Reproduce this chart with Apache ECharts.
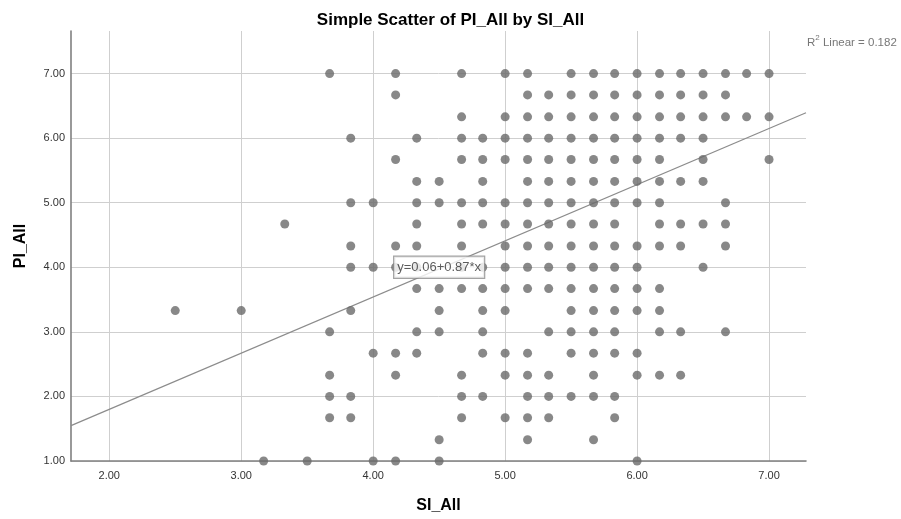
<!DOCTYPE html>
<html>
<head>
<meta charset="utf-8">
<script src="https://cdn.jsdelivr.net/npm/echarts@6/dist/echarts.min.js"></script>
<style>
  html, body { margin: 0; padding: 0; background: #fff; }
  #main { width: 901px; height: 519px; }
</style>
</head>
<body>
<div id="main"></div>
<script>
// PI_All levels (one row of points each) and the SI_All values seen on that row
var piLevels = [7.00, 6.67, 6.33, 6.00, 5.67, 5.33, 5.00, 4.67, 4.33, 4.00, 3.67, 3.33, 3.00, 2.67, 2.33, 2.00, 1.67, 1.33, 1.00];
var siByRow = [
  [3.67, 4.17, 4.67, 5.00, 5.17, 5.50, 5.67, 5.83, 6.00, 6.17, 6.33, 6.50, 6.67, 6.83, 7.00],
  [4.17, 5.17, 5.33, 5.50, 5.67, 5.83, 6.00, 6.17, 6.33, 6.50, 6.67],
  [4.67, 5.00, 5.17, 5.33, 5.50, 5.67, 5.83, 6.00, 6.17, 6.33, 6.50, 6.67, 6.83, 7.00],
  [3.83, 4.33, 4.67, 4.83, 5.00, 5.17, 5.33, 5.50, 5.67, 5.83, 6.00, 6.17, 6.33, 6.50],
  [4.17, 4.67, 4.83, 5.00, 5.17, 5.33, 5.50, 5.67, 5.83, 6.00, 6.17, 6.50, 7.00],
  [4.33, 4.50, 4.83, 5.17, 5.33, 5.50, 5.67, 5.83, 6.00, 6.17, 6.33, 6.50],
  [3.83, 4.00, 4.33, 4.50, 4.67, 4.83, 5.00, 5.17, 5.33, 5.50, 5.67, 5.83, 6.00, 6.17, 6.67],
  [3.33, 4.33, 4.67, 4.83, 5.00, 5.17, 5.33, 5.50, 5.67, 5.83, 6.17, 6.33, 6.50, 6.67],
  [3.83, 4.17, 4.33, 4.67, 5.00, 5.17, 5.33, 5.50, 5.67, 5.83, 6.00, 6.17, 6.33, 6.67],
  [3.83, 4.00, 4.17, 4.33, 4.67, 4.83, 5.00, 5.17, 5.33, 5.50, 5.67, 5.83, 6.00, 6.50],
  [4.33, 4.50, 4.67, 4.83, 5.00, 5.17, 5.33, 5.50, 5.67, 5.83, 6.00, 6.17],
  [2.50, 3.00, 3.83, 4.50, 4.83, 5.00, 5.50, 5.67, 5.83, 6.00, 6.17],
  [3.67, 4.33, 4.50, 4.83, 5.33, 5.50, 5.67, 5.83, 6.17, 6.33, 6.67],
  [4.00, 4.17, 4.33, 4.83, 5.00, 5.17, 5.50, 5.67, 5.83, 6.00],
  [3.67, 4.17, 4.67, 5.00, 5.17, 5.33, 5.67, 6.00, 6.17, 6.33],
  [3.67, 3.83, 4.67, 4.83, 5.17, 5.33, 5.50, 5.67, 5.83],
  [3.67, 3.83, 4.67, 5.00, 5.17, 5.33, 5.83],
  [4.50, 5.17, 5.67],
  [3.17, 3.50, 4.00, 4.17, 4.50, 6.00]
];
var xTicks = [2, 3, 4, 5, 6, 7];
var yTicks = [1, 2, 3, 4, 5, 6, 7];
var fitCoef = [0.06, 0.87]; // intercept, slope
var rSquared = 0.182;

var xMin = 1.71, xMax = 7.28;
var yMin = 1.0, yMax = 7.66;

var points = [];
for (var r = 0; r < piLevels.length; r++) {
  for (var c = 0; c < siByRow[r].length; c++) {
    points.push([siByRow[r][c], piLevels[r]]);
  }
}
var fitLine = [
  [xMin, fitCoef[0] + fitCoef[1] * xMin],
  [xMax, fitCoef[0] + fitCoef[1] * xMax]
];

var myChart = echarts.init(document.getElementById("main"));
var option = {
  animation: false,
  title: {
    text: "Simple Scatter of PI_All by SI_All",
    left: "center",
    top: 7,
    textStyle: {
      fontFamily: "Liberation Sans",
      fontSize: 17,
      fontWeight: "bold",
      color: "#000",
    },
  },
  grid: {
    left: 71,
    right: 95,
    top: 31,
    bottom: 54,
  },
  xAxis: {
    type: "value",
    min: xMin,
    max: xMax,
    name: "SI_All",
    nameLocation: "middle",
    nameGap: 37,
    nameTextStyle: {
      fontFamily: "Liberation Sans",
      fontSize: 16,
      fontWeight: "bold",
      color: "#000",
    },
    axisLine: { lineStyle: { color: "#808080", width: 1.6 } },
    axisTick: { show: false, customValues: xTicks },
    axisLabel: {
      customValues: xTicks,
      fontFamily: "Liberation Sans",
      fontSize: 11,
      color: "#333",
      margin: 9,
      formatter: function (v) { return v.toFixed(2); },
    },
    splitLine: { show: true, lineStyle: { color: "#cfcfcf", width: 1 } },
  },
  yAxis: {
    type: "value",
    min: yMin,
    max: yMax,
    name: "PI_All",
    nameLocation: "middle",
    nameGap: 42,
    nameTextStyle: {
      fontFamily: "Liberation Sans",
      fontSize: 16,
      fontWeight: "bold",
      color: "#000",
    },
    axisLine: { show: true, lineStyle: { color: "#808080", width: 1.6 } },
    axisTick: { show: false, customValues: yTicks },
    axisLabel: {
      customValues: yTicks,
      fontFamily: "Liberation Sans",
      fontSize: 11,
      color: "#333",
      margin: 6,
      formatter: function (v) { return v.toFixed(2); },
    },
    splitLine: { show: true, lineStyle: { color: "#cfcfcf", width: 1 } },
  },
  series: [
    {
      type: "scatter",
      data: points,
      symbolSize: 9,
      itemStyle: { color: "#6a6a6a" },
      z: 3,
    },
    {
      type: "line",
      data: fitLine,
      symbol: "none",
      lineStyle: { color: "#8c8c8c", width: 1.2 },
      z: 2,
    },
    {
      type: "scatter",
      data: [[4.5, 4.0]],
      symbolSize: 0,
      z: 10,
      label: {
        show: true,
        position: "inside",
        formatter: "y=0.06+0.87*x",
        fontFamily: "Liberation Sans",
        fontSize: 13,
        color: "#333",
        backgroundColor: "#fff",
        borderColor: "#8c8c8c",
        borderWidth: 1.2,
        padding: [5, 3, 3, 3],
      },
    },
  ],
  graphic: [
    {
      type: "text",
      left: 807,
      top: 34,
      style: {
        text: "{b|R}{s|2}{b| Linear = " + rSquared.toFixed(3) + "}",
        rich: {
          b: { fontFamily: "Liberation Sans", fontSize: 11.5, fill: "#777", color: "#777", verticalAlign: "bottom", lineHeight: 15 },
          s: { fontFamily: "Liberation Sans", fontSize: 8, fill: "#777", color: "#777", verticalAlign: "top", lineHeight: 15 },
        },
      },
    },
  ],
};
myChart.setOption(option);
window.addEventListener("resize", function () {
  myChart.resize();
});
</script>
</body>
</html>
